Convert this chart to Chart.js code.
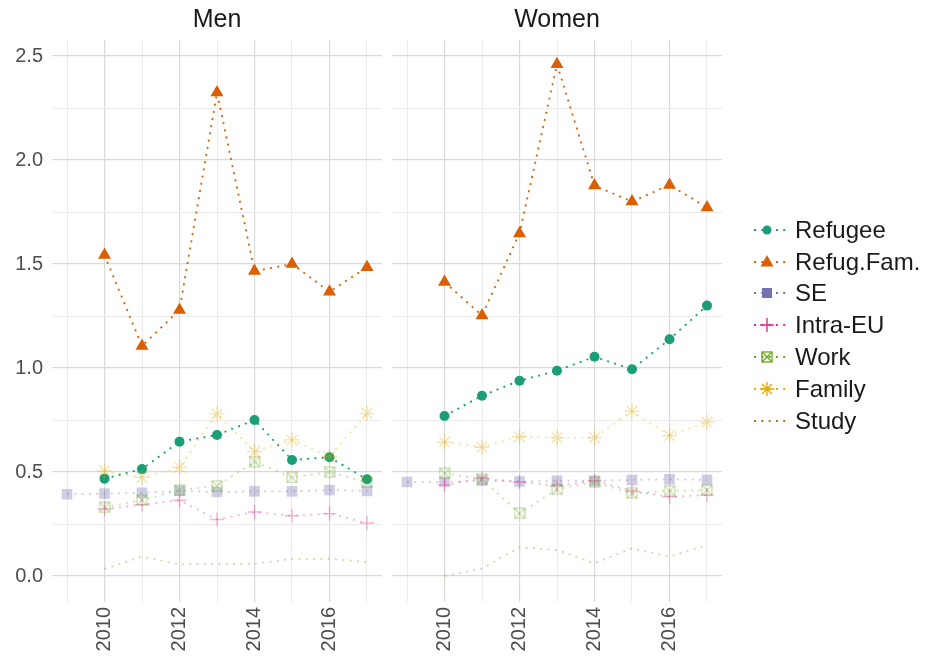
<!DOCTYPE html>
<html>
<head>
<meta charset="utf-8">
<script src="https://cdn.jsdelivr.net/npm/chart.js@4.4.1/dist/chart.umd.min.js"></script>
<style>
  body { margin: 0; background: #fff; font-family: "Liberation Sans", Arial, sans-serif; }
  #wrap { position: relative; width: 930px; height: 663px; overflow: hidden; }
  .panel { position: absolute; top: 0; }
  .strip { position: absolute; top: 4px; font-size: 25px; color: #1a1a1a; transform: translateX(-50%); white-space: nowrap; }
  #legend { position: absolute; left: 750px; top: 214px; }
  .key { display: flex; align-items: center; height: 31.8px; }
  .key canvas { margin-right: 9px; }
  .key span { font-size: 24px; color: #1a1a1a; }
</style>
</head>
<body>
<div id="wrap">
  <canvas id="men" class="panel" style="left:0" width="382" height="663"></canvas>
  <canvas id="women" class="panel" style="left:392px" width="330" height="663"></canvas>
  <div class="strip" style="left:217px">Men</div>
  <div class="strip" style="left:557px">Women</div>
  <div id="legend"></div>
</div>
<script>
// x values
const years   = [2010, 2011, 2012, 2013, 2014, 2015, 2016, 2017];
const yearsSE = [2009, 2010, 2011, 2012, 2013, 2014, 2015, 2016, 2017];
const xTickYears  = [2009, 2010, 2011, 2012, 2013, 2014, 2015, 2016, 2017];
const xLabelYears = [2010, 2012, 2014, 2016];
const yTickValues  = [0, 0.25, 0.5, 0.75, 1, 1.25, 1.5, 1.75, 2, 2.25, 2.5];
const yLabelValues = [0, 0.5, 1, 1.5, 2, 2.5];

const seriesNames = ['Refugee', 'Refug.Fam.', 'SE', 'Intra-EU', 'Work', 'Family', 'Study'];

// Men
const menRefugee   = [0.468, 0.514, 0.646, 0.678, 0.750, 0.558, 0.571, 0.465];
const menRefugFam  = [1.543, 1.106, 1.279, 2.325, 1.466, 1.500, 1.367, 1.484];
const menSE        = [0.393, 0.396, 0.400, 0.409, 0.404, 0.407, 0.407, 0.413, 0.409];
const menIntraEU   = [0.322, 0.343, 0.364, 0.272, 0.308, 0.290, 0.300, 0.255];
const menWork      = [0.330, 0.365, 0.413, 0.433, 0.550, 0.474, 0.500, 0.450];
const menFamily    = [0.505, 0.474, 0.522, 0.779, 0.598, 0.654, 0.574, 0.782];
const menStudy     = [0.034, 0.093, 0.056, 0.059, 0.059, 0.082, 0.083, 0.067];

// Women
const womenRefugee  = [0.769, 0.867, 0.939, 0.987, 1.054, 0.994, 1.138, 1.300];
const womenRefugFam = [1.413, 1.253, 1.647, 2.460, 1.877, 1.800, 1.880, 1.772];
const womenSE       = [0.452, 0.452, 0.458, 0.454, 0.458, 0.458, 0.462, 0.465, 0.462];
const womenIntraEU  = [0.438, 0.470, 0.452, 0.433, 0.458, 0.409, 0.381, 0.389];
const womenWork     = [0.494, 0.466, 0.301, 0.417, 0.452, 0.397, 0.410, 0.413];
const womenFamily   = [0.644, 0.619, 0.670, 0.665, 0.665, 0.793, 0.675, 0.740];
const womenStudy    = [0.000, 0.035, 0.138, 0.125, 0.061, 0.133, 0.093, 0.149];

const colors = ['#1b9e77', '#d95f02', '#7570b3', '#e7298a', '#66a61e', '#e6ab02', '#a6761d'];
const alphas = [1, 1, 0.35, 0.35, 0.35, 0.35, 0.35];

function rgba(hex, a) {
  const n = parseInt(hex.slice(1), 16);
  return `rgba(${n >> 16}, ${(n >> 8) & 255}, ${n & 255}, ${a})`;
}

// square with a cross inside (ggplot shape 7)
function squareCross(color, size) {
  const c = document.createElement('canvas');
  c.width = c.height = size;
  const g = c.getContext('2d');
  g.strokeStyle = color;
  g.lineWidth = 1.3;
  const p = 1;
  g.strokeRect(p, p, size - 2 * p, size - 2 * p);
  g.beginPath();
  g.moveTo(p, p); g.lineTo(size - p, size - p);
  g.moveTo(size - p, p); g.lineTo(p, size - p);
  g.stroke();
  return c;
}

const styles = [
  { pointStyle: 'circle',   radius: 5 },
  { pointStyle: 'triangle', radius: 7.5 },
  { pointStyle: 'rect',     radius: 7.5 },
  { pointStyle: 'cross',    radius: 7, stroke: 1.4 },
  { pointStyle: 'work',     radius: 6 },
  { pointStyle: 'star',     radius: 7.5, stroke: 1.3 },
  { pointStyle: false,      radius: 0 },
];

function makeDatasets(series, xs) {
  return series.map((vals, i) => {
    const col = rgba(colors[i], alphas[i]);
    const st = styles[i];
    const ps = st.pointStyle === 'work' ? squareCross(col, 12) : st.pointStyle;
    return {
      label: seriesNames[i],
      data: vals.map((v, k) => ({ x: xs[i][k], y: v })),
      borderColor: col,
      backgroundColor: col,
      borderWidth: 1.8,
      borderDash: [2, 5.3],
      pointStyle: ps,
      pointRadius: st.radius,
      pointBorderWidth: st.stroke || 0,
      pointBorderColor: col,
      pointBackgroundColor: col,
      order: -i,
    };
  });
}

function panelOptions(showY) {
  const majorGrid = '#d9d9d9', minorGrid = '#ebebeb';
  return {
    responsive: false,
    animation: false,
    layout: { autoPadding: false, padding: { top: 40, left: 0, right: 0, bottom: 0 } },
    plugins: { legend: { display: false }, tooltip: { enabled: false } },
    scales: {
      x: {
        type: 'linear',
        min: 2008.6,
        max: 2017.4,
        border: { display: false },
        afterBuildTicks: s => { s.ticks = xTickYears.map(v => ({ value: v })); },
        afterFit: s => { s.height = 61; s.paddingLeft = 0; s.paddingRight = 0; },
        grid: {
          drawTicks: false,
          color: c => xLabelYears.includes(c.tick.value) ? majorGrid : minorGrid,
          lineWidth: c => xLabelYears.includes(c.tick.value) ? 1.2 : 1,
        },
        ticks: {
          autoSkip: false,
          minRotation: 90,
          maxRotation: 90,
          padding: 5,
          color: '#4d4d4d',
          font: { family: 'Liberation Sans', size: 20 },
          callback: v => xLabelYears.includes(v) ? String(v) : '',
        },
      },
      y: {
        min: -0.125,
        max: 2.577,
        border: { display: false },
        afterBuildTicks: s => { s.ticks = yTickValues.map(v => ({ value: v })); },
        afterFit: s => { s.width = showY ? 52 : 0; s.paddingTop = 0; s.paddingBottom = 0; },
        grid: {
          drawTicks: false,
          color: c => yLabelValues.includes(c.tick.value) ? majorGrid : minorGrid,
          lineWidth: c => yLabelValues.includes(c.tick.value) ? 1.2 : 1,
        },
        ticks: {
          display: showY,
          padding: 9,
          color: '#4d4d4d',
          font: { family: 'Liberation Sans', size: 20 },
          callback: v => yLabelValues.includes(v) ? v.toFixed(1) : '',
        },
      },
    },
  };
}

const menSeries = [menRefugee, menRefugFam, menSE, menIntraEU, menWork, menFamily, menStudy];
const womenSeries = [womenRefugee, womenRefugFam, womenSE, womenIntraEU, womenWork, womenFamily, womenStudy];
const xsFor = [years, years, yearsSE, years, years, years, years];

new Chart(document.getElementById('men'), {
  type: 'line',
  data: { datasets: makeDatasets(menSeries, xsFor) },
  options: panelOptions(true),
});
new Chart(document.getElementById('women'), {
  type: 'line',
  data: { datasets: makeDatasets(womenSeries, xsFor) },
  options: panelOptions(false),
});

// legend keys
const legend = document.getElementById('legend');
seriesNames.forEach((name, i) => {
  const row = document.createElement('div');
  row.className = 'key';
  const c = document.createElement('canvas');
  c.width = 36; c.height = 24;
  const g = c.getContext('2d');
  const col = colors[i];
  g.strokeStyle = col; g.fillStyle = col;
  g.lineWidth = 1.8;
  g.setLineDash([2, 5.3]);
  g.beginPath(); g.moveTo(4, 12); g.lineTo(36, 12); g.stroke();
  g.setLineDash([]);
  const cx = 17, cy = 12;
  g.lineWidth = 1.4;
  g.beginPath();
  if (i === 0) { g.arc(cx, cy, 4.5, 0, Math.PI * 2); g.fill(); }
  if (i === 1) { g.moveTo(cx, cy - 7); g.lineTo(cx + 6.5, cy + 4.5); g.lineTo(cx - 6.5, cy + 4.5); g.closePath(); g.fill(); }
  if (i === 2) { g.fillRect(cx - 5, cy - 5, 10, 10); }
  if (i === 3) { g.moveTo(cx - 7, cy); g.lineTo(cx + 7, cy); g.moveTo(cx, cy - 7); g.lineTo(cx, cy + 7); g.stroke(); }
  if (i === 4) { g.drawImage(squareCross(col, 12), cx - 6, cy - 6); }
  if (i === 5) {
    for (let a = 0; a < 4; a++) {
      const t = a * Math.PI / 4;
      g.moveTo(cx - 7 * Math.cos(t), cy - 7 * Math.sin(t));
      g.lineTo(cx + 7 * Math.cos(t), cy + 7 * Math.sin(t));
    }
    g.stroke();
  }
  row.appendChild(c);
  const s = document.createElement('span');
  s.textContent = name;
  row.appendChild(s);
  legend.appendChild(row);
});
</script>
</body>
</html>
